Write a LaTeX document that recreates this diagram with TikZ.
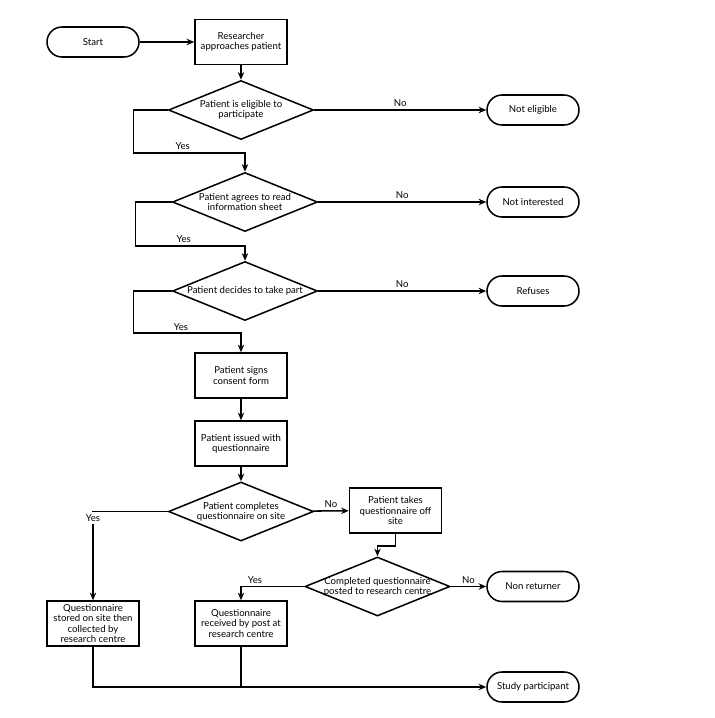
\documentclass[tikz,border=0pt]{standalone}
\usepackage{fontspec}
\setmainfont{Lato}
\usetikzlibrary{calc, positioning, shapes.geometric, arrows.meta}

\begin{document}
\begin{tikzpicture}[
        x=0.03cm, y=-0.03cm,
        line width=1.3pt,
        every node/.style={font=\fontsize{8.2}{8.6}\selectfont},
        box/.style={rectangle, draw=black, minimum width=2.76cm,
                    minimum height=1.35cm, align=center, inner sep=2pt},
        term/.style={rectangle, draw=black, rounded corners=0.45cm,
                     minimum width=2.76cm, minimum height=0.9cm, align=center},
        decision/.style={diamond, draw=black, aspect=2.45, minimum width=4.35cm,
                         minimum height=1.77cm, align=center, inner sep=0pt},
        arrow/.style={->, >={Stealth[length=6.5pt, width=5.5pt]}},
        lbl/.style={inner sep=2pt},
    ]
    \useasboundingbox (0,0) rectangle (714,718);

    % ====== main column ======
    \node[term] (start) at (93,42) {Start};
    \node[box] (approach) at (241,42) {Researcher\\approaches patient};
    \node[decision] (eligible) at (241,110) {Patient is eligible to\\participate};
    \node[decision] (agree) at (245,202) {Patient agrees to read\\information sheet};
    \node[decision] (decide) at (245,291) {Patient decides to take part};
    \node[box] (consent) at (241,375.5) {Patient signs\\consent form};
    \node[box] (issued) at (241,443.5) {Patient issued with\\questionnaire};
    \node[decision] (onsite) at (241,511.5) {Patient completes\\questionnaire on site};

    % ====== exits (right) ======
    \node[term] (noteligible) at (533,110) {Not eligible};
    \node[term] (notinterest) at (533,202) {Not interested};
    \node[term] (refuse) at (533,291) {Refuses};

    % ====== questionnaire return ======
    \node[box] (offsite) at (395.5,510.5) {Patient takes\\questionnaire off\\site};
    \node[decision, inner xsep=-0.25cm] (posted) at (377.5,586.5)
        {Completed questionnaire\\posted to research centre};
    \node[term] (nonreturn) at (533,586.5) {Non returner};
    \node[box] (stored) at (93,623.5) {Questionnaire\\stored on site then\\collected by\\research centre};
    \node[box] (received) at (241,623.5) {Questionnaire\\received by post at\\research centre};
    \node[term] (study) at (533,687) {Study participant};

    % ====== arrows ======
    \draw[arrow] (start) -- (approach);
    \draw[arrow] (approach) -- (eligible);
    \draw[arrow] (eligible) -- node[midway, above, lbl] {No} (noteligible);
    \draw[arrow] (eligible.west) -- ++(-34,0) |- node[pos=0.72, above, lbl] {Yes}
        ($(agree.north)+(0,-19)$) -- (agree.north);
    \draw[arrow] (agree) -- node[midway, above, lbl] {No} (notinterest);
    \draw[arrow] (agree.west) -- ++(-36,0) |- node[pos=0.72, above, lbl] {Yes}
        ($(decide.north)+(0,-15)$) -- (decide.north);
    \draw[arrow] (decide) -- node[midway, above, lbl] {No} (refuse);
    \draw[arrow] (decide.west) -- ++(-38,0) |- node[pos=0.72, above, lbl] {Yes}
        ($(consent.north)+(0,-19)$) -- (consent.north);
    \draw[arrow] (consent) -- (issued);
    \draw[arrow] (issued) -- (onsite);

    \draw[arrow] (onsite) -- node[midway, above, lbl] {No} (offsite);
    \draw[arrow] (onsite.west) -| node[pos=0.5, below, lbl, fill=white] {Yes} (stored.north);
    \draw[arrow] (offsite.south) -- ++(0,12) -| (posted.north);
    \draw[arrow] (posted) -- node[midway, above, lbl] {No} (nonreturn);
    \draw[arrow] (posted.west) -| node[pos=0.39, above, lbl] {Yes} (received.north);

    % ====== to study participant ======
    \draw[arrow] (stored.south) |- (study.west);
    \draw (received.south) -- (received.south |- study.west);

\end{tikzpicture}
\end{document}
